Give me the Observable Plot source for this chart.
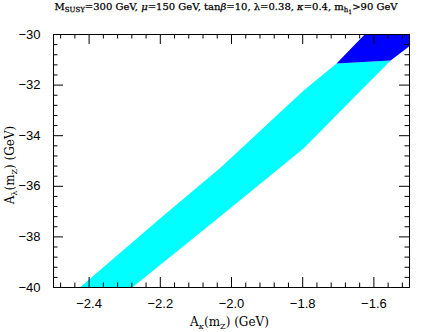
<!DOCTYPE html>
<html><head><meta charset="utf-8">
<script src="https://cdn.jsdelivr.net/npm/d3@7"></script>
<script src="https://cdn.jsdelivr.net/npm/@observablehq/plot@0.6"></script>
<style>
body{margin:0;background:#fff;width:426px;height:332px;overflow:hidden;}
#title{position:relative;height:20px;width:426px;font-family:"DejaVu Serif";font-size:10px;white-space:nowrap;}
#title span.t{position:absolute;left:226px;top:1px;transform:translateX(-50%);-webkit-text-stroke:0.25px #000;}
#title sub{font-size:7px;vertical-align:-2px;}
#chart svg{display:block;}
</style></head><body>
<div id="title"><span class="t">M<sub>SUSY</sub>=300 GeV, <i>μ</i>=150 GeV, tan<i>β</i>=10, λ=0.38, <i>κ</i>=0.4, m<sub>h<sub style="font-size:6px">1</sub></sub>&gt;90 GeV</span></div>
<div id="chart"></div>
<script>
// cyan region outline (A_kappa, A_lambda)
const cyanX = [-2.426, -2.199, -2.031, -1.798, -1.705, -1.553, -1.657, -1.797, -2.031, -2.279];
const cyanY = [-40.0, -37.25, -35.27, -32.22, -31.15, -31.03, -32.50, -34.50, -37.18, -40.0];
// dark blue region outline
const blueX = [-1.705, -1.626, -1.50, -1.50, -1.553];
const blueY = [-31.15, -30.0, -30.0, -30.46, -31.03];

const xMajor = [-2.4, -2.2, -2.0, -1.8, -1.6];
const xMinor = [-2.48, -2.44, -2.36, -2.32, -2.28, -2.24, -2.16, -2.12, -2.08, -2.04,
                -1.96, -1.92, -1.88, -1.84, -1.76, -1.72, -1.68, -1.64, -1.56, -1.52];
const yMajor = [-40, -38, -36, -34, -32, -30];
const yMinor = [-39.6, -39.2, -38.8, -38.4, -37.6, -37.2, -36.8, -36.4, -35.6, -35.2, -34.8, -34.4,
                -33.6, -33.2, -32.8, -32.4, -31.6, -31.2, -30.8, -30.4];

const cyan = cyanX.map((x, i) => ({x, y: cyanY[i]}));
const blue = blueX.map((x, i) => ({x, y: blueY[i]}));

const W = 426, H = 312, mL = 53, mR = 17, mT = 14, mB = 45;
const FW = W - mL - mR, FH = H - mT - mB;
const maj = 10, mnr = 4.5;
const fmt = d => d.toFixed(1).replace("-", "\u2212");
const fmtY = d => String(d).replace("-", "\u2212");

const svg = Plot.plot({
  width: W, height: H,
  marginLeft: mL, marginRight: mR, marginTop: mT, marginBottom: mB,
  style: {fontFamily: "Liberation Sans", fontSize: "13px", color: "#000", background: "#fff"},
  x: {domain: [-2.5, -1.5]},
  y: {domain: [-40, -30]},
  marks: [
    Plot.line(cyan, {x: "x", y: "y", fill: "#00ffff", stroke: "none", curve: "linear-closed", clip: true}),
    Plot.line(blue, {x: "x", y: "y", fill: "#0000ff", stroke: "none", curve: "linear-closed", clip: true}),
    Plot.ruleX(xMajor, {insetTop: FH - maj, stroke: "#000"}),
    Plot.ruleX(xMinor, {insetTop: FH - mnr, stroke: "#000"}),
    Plot.ruleX(xMajor, {insetBottom: FH - maj, stroke: "#000"}),
    Plot.ruleX(xMinor, {insetBottom: FH - mnr, stroke: "#000"}),
    Plot.ruleY(yMajor, {insetRight: FW - maj, stroke: "#000"}),
    Plot.ruleY(yMinor, {insetRight: FW - mnr, stroke: "#000"}),
    Plot.ruleY(yMajor, {insetLeft: FW - maj, stroke: "#000"}),
    Plot.ruleY(yMinor, {insetLeft: FW - mnr, stroke: "#000"}),
    Plot.axisX(xMajor, {tickSize: 0, tickPadding: 11, tickFormat: fmt, label: null, fontSize: 13}),
    Plot.axisY(yMajor, {tickSize: 0, tickPadding: 13, tickFormat: fmtY, label: null, fontSize: 13}),
    Plot.frame({stroke: "#000"})
  ]
});
document.getElementById("chart").appendChild(svg);

const s = d3.select(svg);
const xl = s.append("text").attr("x", 229.5).attr("y", 306).attr("text-anchor", "middle")
  .attr("font-family", "DejaVu Serif").attr("font-size", 12).attr("fill", "#000");
xl.append("tspan").text("A");
xl.append("tspan").attr("dy", 3).attr("font-size", 8).attr("font-style", "italic").text("κ");
xl.append("tspan").attr("dy", -3).text("(m");
xl.append("tspan").attr("dy", 3).attr("font-size", 8).text("Z");
xl.append("tspan").attr("dy", -3).text(") (GeV)");

const yl = s.append("text").attr("transform", "translate(14,145) rotate(-90)").attr("text-anchor", "middle")
  .attr("font-family", "DejaVu Serif").attr("font-size", 12).attr("fill", "#000");
yl.append("tspan").text("A");
yl.append("tspan").attr("dy", 3).attr("font-size", 8).text("λ");
yl.append("tspan").attr("dy", -3).text("(m");
yl.append("tspan").attr("dy", 3).attr("font-size", 8).text("Z");
yl.append("tspan").attr("dy", -3).text(") (GeV)");
</script>
</body></html>
